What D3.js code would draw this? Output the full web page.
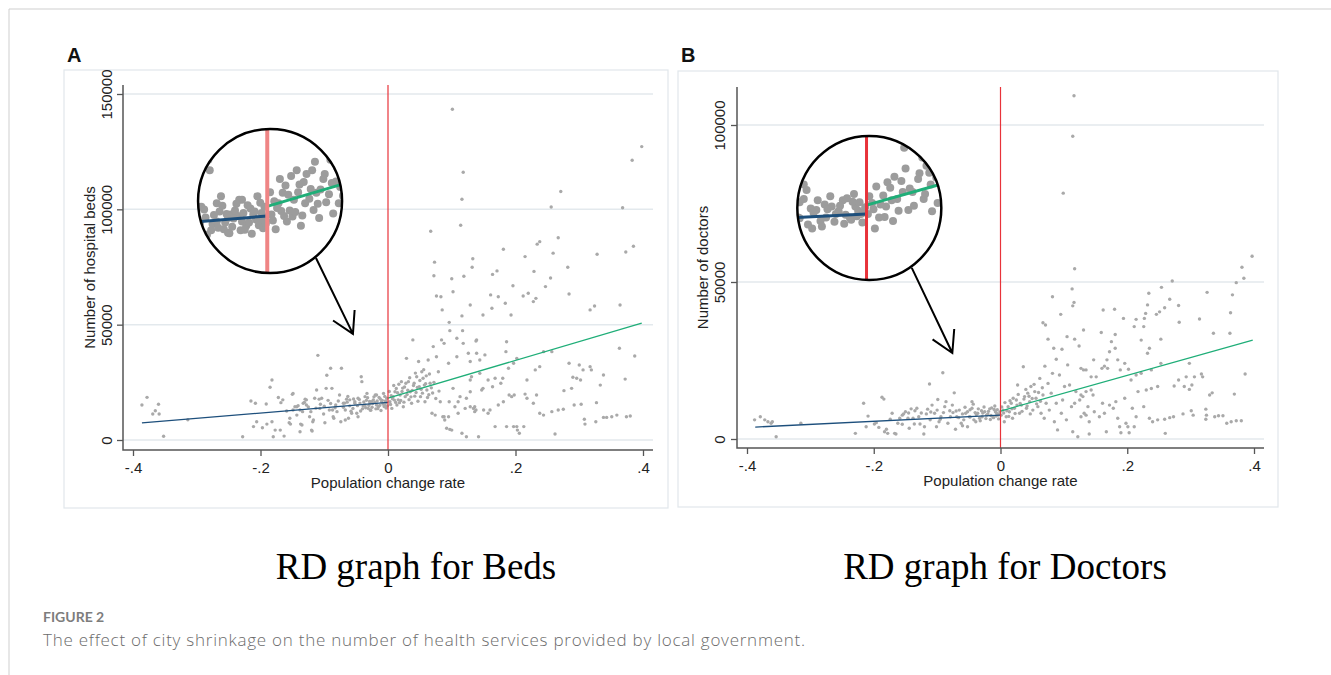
<!DOCTYPE html>
<html>
<head>
<meta charset="utf-8">
<script src="https://cdn.jsdelivr.net/npm/d3@7"></script>
<style>
  body { margin: 0; background: #fff; }
  svg { display: block; }
  .tick text { font-family: "Liberation Sans", Arial, sans-serif; font-size: 15px; fill: #222; }
  .tick line { stroke: #555; stroke-width: 1.3; }
</style>
</head>
<body>
<svg id="chart" width="1331" height="675"></svg>
<script>
var xTicks = [-0.4, -0.2, 0, 0.2, 0.4];
var xTickLabels = ["-.4", "-.2", "0", ".2", ".4"];
var bedsTicks = [0, 50000, 100000, 150000];
var doctorsTicks = [0, 50000, 100000];

// population change rate, number of hospital beds
var bedsPoints = [
  [-0.386,15200],[-0.378,18500],[-0.369,11300],[-0.365,12700],[-0.360,15500],[-0.359,11300],[-0.352,1600],[-0.314,8800],
  [-0.228,1400],[-0.215,16900],[-0.208,15900],[-0.211,5800],[-0.206,7900],[-0.197,5300],[-0.191,15600],[-0.190,6900],
  [-0.185,22900],[-0.182,26000],[-0.180,1400],[-0.182,7900],[-0.177,4300],[-0.172,18400],[-0.169,4300],[-0.168,16200],
  [-0.165,17400],[-0.163,1700],[-0.159,12600],[-0.155,7500],[-0.154,9400],[-0.153,6900],[-0.150,19800],[-0.149,13000],
  [-0.146,14400],[-0.143,10800],[-0.141,14900],[-0.138,3600],[-0.137,6900],[-0.134,12300],[-0.130,17700],[-0.128,15200],
  [-0.123,10100],[-0.121,12300],[-0.119,3900],[-0.118,7900],[-0.115,18100],[-0.112,21700],[-0.110,36700],[-0.108,17700],
  [-0.107,13700],[-0.101,11300],[-0.099,7500],[-0.097,22400],[-0.096,28100],[-0.092,13000],[-0.090,31100],[-0.088,22400],
  [-0.087,13000],[-0.085,9400],[-0.082,15200],[-0.080,12300],[-0.076,19500],[-0.074,7900],[-0.073,31100],[-0.070,15900],
  [-0.067,13000],[-0.065,17700],[-0.062,9400],[-0.060,17400],[-0.055,13700],[-0.052,15900],[-0.049,11600],[-0.047,18100],
  [-0.042,27400],[-0.041,25300],[-0.039,14700],[-0.036,18800],[-0.033,20200],[-0.031,13700],[-0.028,15900],[-0.026,16600],
  [-0.020,19500],[-0.018,15200],[-0.149,20200],[-0.143,14400],[-0.138,13000],[-0.135,6500],[-0.133,15900],[-0.128,17400],
  [-0.120,4300],[-0.117,8700],[-0.104,18100],[-0.086,10100],[-0.067,8700],[-0.057,11600],[-0.052,16600],[-0.047,10100],
  [-0.036,15200],[-0.028,13000],[-0.023,17400],[-0.018,19500],[-0.015,14400],[-0.010,16600],[-0.007,20200],[-0.005,15200],
  [-0.002,18100],[-0.044,16000],[-0.040,13500],[-0.034,17200],[-0.030,15000],[-0.025,14200],[-0.021,16300],[-0.016,13600],
  [-0.012,17800],[-0.008,15600],[-0.004,16900],[-0.003,13900],[-0.060,14800],[-0.064,16400],[-0.070,14200],[-0.078,16900],
  [-0.083,14000],[-0.090,15800],[-0.094,17200],[-0.100,14600],[-0.106,15500],[-0.113,13800],[-0.125,14300],[-0.131,16300],
  [-0.048,14900],[-0.045,17600],[-0.043,12600],[-0.038,16500],[-0.035,14000],[-0.032,18300],[-0.029,16700],[-0.027,12900],
  [-0.024,15800],[-0.022,18700],[-0.019,13500],[-0.017,16900],[-0.014,18400],[-0.013,15000],[-0.011,12800],[-0.009,17200],
  [-0.006,14500],[-0.005,18900],[-0.003,16200],[-0.001,14800],[-0.054,17800],[-0.058,12500],[-0.063,18900],[-0.068,16000],
  [0.003,16600],[0.006,13700],[0.008,18800],[0.011,20900],[0.014,15200],[0.016,17400],[0.019,19500],[0.021,25300],
  [0.024,14400],[0.027,18800],[0.029,35400],[0.032,25300],[0.035,20900],[0.037,15900],[0.039,43400],[0.041,24600],
  [0.045,27400],[0.048,34000],[0.049,23100],[0.051,18800],[0.053,29600],[0.055,26800],[0.058,16600],[0.061,21700],
  [0.063,34700],[0.066,24600],[0.069,11600],[0.071,40500],[0.074,10800],[0.076,36100],[0.079,29600],[0.082,16600],
  [0.084,43400],[0.086,10100],[0.088,41900],[0.089,8700],[0.092,5100],[0.095,33300],[0.096,16600],[0.100,4300],
  [0.102,22400],[0.105,14400],[0.108,36100],[0.110,11600],[0.113,18800],[0.116,2900],[0.118,41900],[0.121,13700],
  [0.123,1400],[0.126,37600],[0.129,20900],[0.131,27400],[0.134,13700],[0.136,12300],[0.139,43400],[0.142,1400],
  [0.144,34700],[0.147,21700],[0.150,13000],[0.152,36900],
  [0.005,19200],[0.010,17300],[0.013,22300],[0.018,16200],[0.022,21000],[0.026,23000],[0.030,19700],[0.033,17500],
  [0.038,21500],[0.042,19000],[0.046,22800],[0.050,25800],[0.054,20300],[0.057,23800],[0.060,27800],[0.064,19600],
  [0.068,22600],[0.072,25000],[0.075,18000],[0.080,21200],
  [0.002,21000],[0.004,15400],[0.007,17900],[0.009,23600],[0.012,16300],[0.015,20500],[0.017,24200],[0.020,17100],
  [0.023,22500],[0.025,16400],[0.028,24600],[0.031,21600],[0.034,27000],[0.036,18700],[0.040,23600],[0.043,29000],
  [0.044,20600],[0.047,16800],[0.052,22000],[0.056,30500],[0.059,24400],[0.062,18400],[0.065,28600],[0.070,20400],
  [0.101,143400],[0.118,116100],[0.116,104400],[0.114,93100],[0.067,90500],[0.073,77100],[0.072,71200],[0.100,69900],
  [0.119,71000],[0.133,78600],[0.132,74900],[0.164,71800],[0.171,73300],[0.181,82700],[0.196,66900],[0.215,79500],
  [0.229,73100],[0.234,84900],[0.238,86000],[0.247,66500],[0.255,70200],[0.259,81000],[0.256,101000],[0.267,87700],
  [0.271,107700],[0.282,74900],[0.328,80500],[0.368,100700],[0.373,81500],[0.385,84000],[0.383,121300],[0.398,127200],
  [0.076,62400],[0.083,62100],[0.085,56400],[0.102,64300],[0.096,51000],[0.097,47400],[0.116,53800],[0.117,47400],
  [0.129,58500],[0.138,42900],[0.149,54200],[0.161,62900],[0.163,57100],[0.173,62100],[0.184,59300],[0.186,42600],
  [0.193,54200],[0.212,62400],[0.220,63600],[0.228,60000],[0.232,61400],[0.284,63300],[0.317,56400],[0.324,58100],
  [0.364,58500],[0.108,44100],[0.139,37600],[0.129,34000],[0.129,26000],[0.144,28900],[0.157,26000],[0.168,26800],
  [0.180,26800],[0.185,38300],[0.189,31100],[0.197,33300],[0.202,35400],[0.218,26000],[0.231,30400],[0.238,31800],
  [0.257,38300],[0.244,38300],[0.233,19500],[0.228,15900],[0.238,11600],[0.244,10800],[0.257,12300],[0.262,2600],
  [0.267,13000],[0.276,21400],[0.275,13300],[0.284,33300],[0.288,22400],[0.290,27200],[0.292,15200],[0.296,26800],
  [0.300,32500],[0.302,26000],[0.303,15500],[0.306,30400],[0.308,9000],[0.309,6900],[0.317,31800],[0.319,30400],
  [0.326,7900],[0.327,16200],[0.333,23800],[0.338,28200],[0.338,9800],[0.343,9800],[0.351,10100],[0.359,10800],
  [0.363,39800],[0.372,26400],[0.374,10100],[0.380,10400],[0.387,36400],
  [0.088,10100],[0.097,4600],[0.095,10100],[0.110,16600],[0.123,18100],[0.129,14400],[0.136,14400],[0.138,13000],
  [0.149,22400],[0.157,11600],[0.160,13000],[0.164,23100],[0.168,5800],[0.173,15200],[0.177,24600],[0.181,16600],
  [0.186,5800],[0.190,19500],[0.194,18800],[0.197,5800],[0.198,19500],[0.202,5800],[0.203,4300],[0.206,2900],
  [0.213,5800],[0.215,19900],[0.218,18100]
];

// population change rate, number of doctors
var doctorsPoints = [
  [-0.388,6100],[-0.379,7100],[-0.372,6100],[-0.367,5500],[-0.362,5000],[-0.360,5500],[-0.354,700],[-0.315,5000],
  [-0.229,1800],[-0.216,11400],[-0.209,7300],[-0.212,3900],[-0.199,4800],[-0.196,5200],[-0.192,3700],[-0.187,13300],
  [-0.184,12700],[-0.183,2300],[-0.180,3100],[-0.178,1800],[-0.174,6300],[-0.171,8200],[-0.167,1800],[-0.165,1600],
  [-0.162,5000],[-0.159,6600],[-0.155,4700],[-0.153,8000],[-0.150,8700],[-0.146,6600],[-0.144,3400],[-0.141,9600],
  [-0.138,6600],[-0.136,4800],[-0.132,9800],[-0.129,7100],[-0.127,4800],[-0.121,1600],[-0.120,3900],[-0.117,8000],
  [-0.115,9500],[-0.112,17500],[-0.111,6100],[-0.108,10800],[-0.104,8200],[-0.101,3900],[-0.099,12600],[-0.097,5500],
  [-0.094,7100],[-0.091,21100],[-0.088,10300],[-0.086,11900],[-0.083,5000],[-0.079,7100],[-0.076,10800],[-0.073,14700],
  [-0.071,3100],[-0.069,7100],[-0.065,9200],[-0.062,5000],[-0.058,6100],[-0.055,8200],[-0.052,3900],[-0.049,7100],
  [-0.045,11900],[-0.043,11100],[-0.039,5500],[-0.036,8200],[-0.033,6600],[-0.029,7100],[-0.025,8700],[-0.022,7600],
  [-0.017,9600],[-0.012,7100],[-0.008,8700],[-0.004,7600],
  [-0.060,8000],[-0.048,9300],[-0.040,8400],[-0.030,9000],[-0.020,8000],[-0.015,7500],[-0.010,9400],[-0.006,8100],
  [-0.002,7900],[-0.070,8900],[-0.080,9000],[-0.090,8400],[-0.100,9200],[-0.110,8600],[-0.125,8300],[-0.135,9000],
  [-0.145,8300],[-0.155,7600],[-0.060,4200],[-0.095,6300],
  [-0.048,7000],[-0.045,9800],[-0.042,6100],[-0.038,7800],[-0.035,9600],[-0.032,5800],[-0.028,8300],[-0.026,10200],
  [-0.023,6500],[-0.019,8800],[-0.016,6200],[-0.014,9900],[-0.011,6800],[-0.009,10500],[-0.007,7300],[-0.005,9300],
  [-0.003,6400],[-0.001,8600],[-0.052,8700],[-0.056,10100],[-0.066,6800],[-0.075,8400],
  [0.001,7600],[0.004,9200],[0.006,5500],[0.009,7100],[0.012,10300],[0.014,8700],[0.017,11400],[0.019,6600],
  [0.022,9800],[0.025,12400],[0.027,17200],[0.030,8200],[0.033,10800],[0.036,23000],[0.038,13500],[0.041,9800],
  [0.043,14600],[0.046,11900],[0.048,16700],[0.051,9200],[0.054,15100],[0.056,13000],[0.059,10300],[0.062,19300],
  [0.064,8200],[0.067,14000],[0.069,6600],[0.070,23200],[0.072,11400],[0.075,17700],[0.077,9200],[0.080,14600],
  [0.082,20900],[0.085,5500],[0.088,11400],[0.090,2900],[0.093,20400],[0.096,8200],[0.098,12400],[0.101,16700],
  [0.104,6100],[0.106,23600],[0.109,17200],[0.112,10300],[0.114,2300],[0.117,11400],[0.119,15100],[0.122,700],
  [0.125,12400],[0.127,22500],[0.130,13500],[0.132,8200],[0.135,15100],[0.138,10300],[0.140,1600],[0.143,19800],
  [0.146,14000],
  [0.002,10200],[0.005,8300],[0.007,11600],[0.010,9000],[0.013,7200],[0.015,12200],[0.018,9600],[0.020,13000],
  [0.023,8100],[0.026,10800],[0.028,14200],[0.031,11300],[0.034,8800],[0.037,12700],[0.040,15800],[0.042,10500],
  [0.045,13600],[0.047,8000],[0.050,12900],[0.053,17400],[0.057,11200],[0.060,14800],[0.063,12000],[0.066,16300],
  [0.271,50300],[0.254,48300],[0.234,46400],[0.267,44500],[0.326,46700],[0.372,49800],[0.384,51200],[0.366,45900],
  [0.363,40200],[0.362,33700],[0.336,33700],[0.314,38200],[0.281,42500],[0.282,37200],[0.259,41800],[0.251,40500],
  [0.246,39700],[0.232,42700],[0.229,40000],[0.227,38400],[0.214,38100],[0.211,35800],[0.226,35800],[0.222,31500],
  [0.235,28900],[0.232,27300],[0.253,31800],[0.194,38400],[0.180,41300],[0.162,41100],[0.181,33300],[0.175,31000],
  [0.159,33900],[0.131,34700],[0.117,31800],[0.105,32600],[0.113,47800],[0.114,42400],[0.116,43500],[0.095,39700],
  [0.082,45300],[0.067,37000],[0.071,36300],[0.075,31800],[0.084,28900],[0.097,28600],[0.124,29600],[0.131,22000],
  [0.088,25400],[0.147,25200],[0.135,22000],[0.151,19800],[0.160,22500],[0.164,23200],[0.169,22500],[0.168,25200],
  [0.172,27800],[0.181,28900],[0.185,25200],[0.189,22000],[0.196,24100],[0.202,22200],[0.206,18800],[0.214,20400],
  [0.222,20900],[0.238,22000],[0.230,15600],[0.238,16100],[0.248,16700],[0.253,24100],[0.274,16900],[0.281,18800],
  [0.290,16700],[0.293,19800],[0.298,24100],[0.298,15800],[0.302,17200],[0.306,19800],[0.317,20700],[0.319,19800],
  [0.330,14000],[0.334,14700],[0.369,14300],[0.386,20700],
  [0.161,11400],[0.156,7100],[0.164,8200],[0.167,2300],[0.172,10800],[0.178,9800],[0.182,11900],[0.185,6600],
  [0.188,3900],[0.190,2000],[0.196,13000],[0.198,5000],[0.201,3900],[0.203,2000],[0.208,9800],[0.211,3900],
  [0.214,7100],[0.217,15100],[0.226,10300],[0.235,6600],[0.240,5500],[0.248,6100],[0.260,1800],[0.259,6300],
  [0.267,6800],[0.273,7100],[0.288,8000],[0.301,9000],[0.304,7600],[0.324,9500],[0.325,7600],[0.324,6300],
  [0.338,7100],[0.344,7400],[0.351,7400],[0.357,5000],[0.364,5500],[0.372,5800],[0.380,5800],
  [0.135,7600],[0.127,7100],[0.140,5500],[0.148,8700],[0.143,15600],[0.127,14000],
  [0.116,109300],[0.114,96400],[0.099,78300],[0.117,54200],[0.381,54700],[0.397,58200]
];

// fitted lines either side of the cutoff
var bedsFitLeft = [[-0.386, 7400], [0, 16300]];
var bedsFitRight = [[0, 18200], [0.398, 50700]];
var doctorsFitLeft = [[-0.387, 3800], [0, 7600]];
var doctorsFitRight = [[0, 8900], [0.398, 31500]];

var svg = d3.select("#chart");
var dotColor = "#a9a9a9";
var leftColor = "#1d4f7c";
var rightColor = "#1fae78";
var cutColor = "#e8333a";
var sans = "Liberation Sans, Arial, sans-serif";

// page frame
svg.append("path").attr("d", "M1331,9H9V675")
  .attr("fill", "none").attr("stroke", "#cfcfcf").attr("stroke-width", 1);

var panels = [
  {letter: "A", points: bedsPoints, fitLeft: bedsFitLeft, fitRight: bedsFitRight, yTicks: bedsTicks,
   yTitle: "Number of hospital beds", subtitle: "RD graph for Beds",
   frame: [64, 70, 668, 508], box: [123, 85, 653, 450], xRange: [133, 643], yRange: [440, 94], yMax: 150000,
   inset: {at: [-0.185, 103600], focus: [0.002, 19250], r: 72, k: 2.2, cutColor: "#ef8585", cutWidth: 4},
   arrow: [[-0.113, 78900], [-0.055, 46000]], titleOff: 28, labelOff: 11, subX: 416},
  {letter: "B", points: doctorsPoints, fitLeft: doctorsFitLeft, fitRight: doctorsFitRight, yTicks: doctorsTicks,
   yTitle: "Number of doctors", subtitle: "RD graph for Doctors",
   frame: [678, 71, 1278, 507], box: [737, 87, 1264, 448], xRange: [747, 1254], yRange: [439, 125], yMax: 100000,
   inset: {at: [-0.207, 73600], focus: [0.002, 8500], r: 72, k: 2.2, cutColor: "#e8333a", cutWidth: 3},
   arrow: [[-0.140, 54500], [-0.076, 27400]], titleOff: 29, labelOff: 12, subX: 1005}
];

panels.forEach(drawPanel);

function drawPanel(p, idx) {
  var g = svg.append("g");
  var box = p.box;
  var x = d3.scaleLinear().domain([-0.4, 0.4]).range(p.xRange);
  var y = d3.scaleLinear().domain([0, p.yMax]).range(p.yRange);

  g.append("rect")
    .attr("x", p.frame[0]).attr("y", p.frame[1])
    .attr("width", p.frame[2] - p.frame[0]).attr("height", p.frame[3] - p.frame[1])
    .attr("fill", "#fff").attr("stroke", "#e1e7eb").attr("stroke-width", 1.2);

  g.append("text").attr("x", p.frame[0] + 3).attr("y", 62)
    .attr("font-family", sans).attr("font-weight", "bold")
    .attr("font-size", 20).attr("fill", "#111").text(p.letter);

  // gridlines
  g.selectAll(".grid").data(p.yTicks).enter().append("line")
    .attr("x1", box[0]).attr("x2", box[2])
    .attr("y1", function (d) { return y(d); }).attr("y2", function (d) { return y(d); })
    .attr("stroke", "#e3e9ed").attr("stroke-width", 1.5);

  drawMarks(g, x, y, p, 1.7, 1.3, cutColor, 1.2, [box[1], box[3]]);

  // axes
  var xAxis = g.append("g").attr("transform", "translate(0," + box[3] + ")")
    .call(d3.axisBottom(x).tickValues(xTicks).tickFormat(function (d, i) { return xTickLabels[i]; })
      .tickSize(6).tickPadding(6));
  xAxis.select(".domain").remove();

  var yAxis = g.append("g").attr("transform", "translate(" + box[0] + ",0)")
    .call(d3.axisLeft(y).tickValues(p.yTicks).tickFormat(d3.format("d")).tickSize(6));
  yAxis.select(".domain").remove();
  yAxis.selectAll(".tick text")
    .attr("transform", "rotate(-90)").attr("x", 0).attr("y", -p.labelOff).attr("dy", 0)
    .attr("text-anchor", "middle");

  g.append("path")
    .attr("d", "M" + box[0] + "," + box[1] + "V" + box[3] + "H" + box[2])
    .attr("fill", "none").attr("stroke", "#555").attr("stroke-width", 1.5);

  g.append("text")
    .attr("transform", "translate(" + (box[0] - p.titleOff) + "," + ((box[1] + box[3]) / 2) + ") rotate(-90)")
    .attr("text-anchor", "middle").attr("font-family", sans)
    .attr("font-size", 15).attr("fill", "#222").text(p.yTitle);

  g.append("text").attr("x", x(0)).attr("y", box[3] + 38)
    .attr("text-anchor", "middle").attr("font-family", sans)
    .attr("font-size", 15).attr("fill", "#222").text("Population change rate");

  // magnified view around the cutoff
  var ins = p.inset;
  var cx = x(ins.at[0]), cy = y(ins.at[1]);
  var pxX = (p.xRange[1] - p.xRange[0]) / 0.8;
  var pxY = (p.yRange[0] - p.yRange[1]) / p.yMax;
  var hx = ins.r / (ins.k * pxX), hy = ins.r / (ins.k * pxY);
  var xi = d3.scaleLinear().domain([ins.focus[0] - hx, ins.focus[0] + hx]).range([cx - ins.r, cx + ins.r]);
  var yi = d3.scaleLinear().domain([ins.focus[1] - hy, ins.focus[1] + hy]).range([cy + ins.r, cy - ins.r]);

  var clipId = "clip" + idx;
  g.append("clipPath").attr("id", clipId).append("circle")
    .attr("cx", cx).attr("cy", cy).attr("r", ins.r);
  g.append("circle").attr("cx", cx).attr("cy", cy).attr("r", ins.r).attr("fill", "#fff");
  var gi = g.append("g").attr("clip-path", "url(#" + clipId + ")");
  drawMarks(gi, xi, yi, p, 4, 3, ins.cutColor, ins.cutWidth, [cy - ins.r, cy + ins.r], true);
  g.append("circle").attr("cx", cx).attr("cy", cy).attr("r", ins.r)
    .attr("fill", "none").attr("stroke", "#000").attr("stroke-width", 2.5);

  // arrow
  var a0 = [x(p.arrow[0][0]), y(p.arrow[0][1])];
  var a1 = [x(p.arrow[1][0]), y(p.arrow[1][1])];
  var ang = Math.atan2(a1[1] - a0[1], a1[0] - a0[0]);
  var hl = 24, spread = Math.PI / 6;
  var h1 = [a1[0] - hl * Math.cos(ang - spread), a1[1] - hl * Math.sin(ang - spread)];
  var h2 = [a1[0] - hl * Math.cos(ang + spread), a1[1] - hl * Math.sin(ang + spread)];
  g.append("path")
    .attr("d", "M" + a0 + "L" + a1 + "M" + h1 + "L" + a1 + "L" + h2)
    .attr("fill", "none").attr("stroke", "#000").attr("stroke-width", 2);

  svg.append("text").attr("x", p.subX).attr("y", 579).attr("text-anchor", "middle")
    .attr("font-family", "Liberation Serif, Times New Roman, serif").attr("font-size", 37)
    .attr("fill", "#000").text(p.subtitle);
}

function drawMarks(g, x, y, p, r, lw, cut, cutW, cutSpan, inset) {
  g.selectAll(".dot").data(p.points).enter().append("circle")
    .attr("cx", function (d) { return x(d[0]); })
    .attr("cy", function (d) { return y(d[1]); })
    .attr("r", r).attr("fill", inset ? "#9c9c9c" : dotColor);
  var line = d3.line().x(function (d) { return x(d[0]); }).y(function (d) { return y(d[1]); });
  g.append("path").attr("d", line(p.fitLeft)).attr("fill", "none")
    .attr("stroke", leftColor).attr("stroke-width", lw);
  g.append("path").attr("d", line(p.fitRight)).attr("fill", "none")
    .attr("stroke", rightColor).attr("stroke-width", lw);
  g.append("line").attr("x1", x(0)).attr("x2", x(0)).attr("y1", cutSpan[0]).attr("y2", cutSpan[1])
    .attr("stroke", cut).attr("stroke-width", cutW);
}

// caption
svg.append("text").attr("x", 43).attr("y", 622)
  .attr("font-family", "Lato, Open Sans, sans-serif").attr("font-size", 14).attr("font-weight", 700)
  .attr("fill", "#7d7d7d").text("FIGURE 2");
svg.append("text").attr("x", 43).attr("y", 646)
  .attr("font-family", "Open Sans, sans-serif").attr("font-size", 17).attr("font-weight", 300)
  .attr("letter-spacing", 0.75).attr("fill", "#6b6b6b")
  .text("The effect of city shrinkage on the number of health services provided by local government.");
</script>
</body>
</html>
